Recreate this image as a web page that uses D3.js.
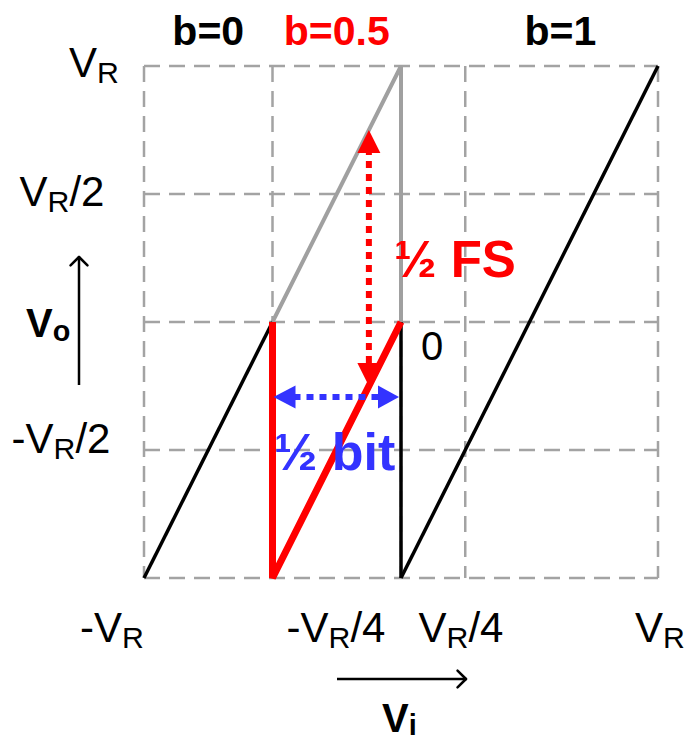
<!DOCTYPE html>
<html><head><meta charset="utf-8">
<script src="https://cdn.jsdelivr.net/npm/d3@7"></script>
<style>body{margin:0;background:#fff}svg{display:block}text{font-family:"Liberation Sans",Arial,sans-serif}</style>
</head><body><svg id="c" width="685" height="743"></svg>
<script>
// ---- data (units of V_R) ----
const xGrid = [-1, -0.5, 0, 0.25, 1];
const yGrid = [1, 0.5, 0, -0.5, -1];
const xTickValues = [-1, -0.25, 0.25, 1];
const xTickLabels = ["-V_R", "-V_R/4", "V_R/4", "V_R"];
const yTickValues = [1, 0.5, -0.5];
const yTickLabels = ["V_R", "V_R/2", "-V_R/2"];
const segLabels = ["b=0", "b=0.5", "b=1"];
const segLabelX = [-0.75, -0.25, 0.62];
const curveB0 = [[-1, -1], [-0.5, 0]];
const curveGray = [[-0.5, 0], [0, 1], [0, 0]];
const curveRed = [[-0.5, 0], [-0.5, -1], [0, 0]];
const curveB1a = [[0, 0], [0, -1]];
const curveB1b = [[0, -1], [1, 1]];
const fsArrow = [[-0.125, -0.25], [-0.125, 0.75]];
const bitArrow = [[-0.5, -0.293], [0, -0.293]];

const svg = d3.select("#c");
const x = d3.scaleLinear().domain([-1, 1]).range([144, 658]);
const y = d3.scaleLinear().domain([-1, 1]).range([578, 66]);
const line = d3.line().x(d => x(d[0])).y(d => y(d[1]));

// grid
const grid = svg.append("g").attr("stroke", "#a3a3a3").attr("stroke-width", 2.5)
  .attr("stroke-dasharray", "16,9").attr("fill", "none");
grid.selectAll(".h").data(yGrid).join("line")
  .attr("x1", x(-1)).attr("x2", x(1)).attr("y1", d => y(d)).attr("y2", d => y(d));
grid.selectAll(".v").data(xGrid).join("line")
  .attr("y1", y(1)).attr("y2", y(-1)).attr("x1", d => x(d)).attr("x2", d => x(d));

// curves
function path(data, color, w) {
  svg.append("path").datum(data).attr("d", line).attr("fill", "none")
    .attr("stroke", color).attr("stroke-width", w).attr("stroke-linejoin", "miter");
}
path(curveGray, "#a0a0a0", 4);
path(curveB0, "#000", 3.5);
path(curveB1a, "#000", 3.5);
path(curveB1b, "#000", 3.5);
path(curveRed, "#ff0000", 7);

// dotted double arrows
function dblArrow(p, color, vertical) {
  const x1 = x(p[0][0]), y1 = y(p[0][1]), x2 = x(p[1][0]), y2 = y(p[1][1]);
  const L = 23, W = 11.5;
  const g = svg.append("g");
  if (vertical) {
    g.append("line").attr("x1", x1).attr("x2", x2).attr("y1", y1 - L).attr("y2", y2 + L)
      .attr("stroke", color).attr("stroke-width", 6).attr("stroke-dasharray", "7,6");
    g.append("path").attr("fill", color)
      .attr("d", `M${x1},${y1}L${x1 - W},${y1 - L}L${x1 + W},${y1 - L}Z`);
    g.append("path").attr("fill", color)
      .attr("d", `M${x2},${y2}L${x2 - W},${y2 + L}L${x2 + W},${y2 + L}Z`);
  } else {
    g.append("line").attr("x1", x1 + L - 2).attr("x2", x2 - L + 2).attr("y1", y1).attr("y2", y2)
      .attr("stroke", color).attr("stroke-width", 6).attr("stroke-dasharray", "7,6");
    g.append("path").attr("fill", color)
      .attr("d", `M${x1 + 1},${y1}L${x1 + L},${y1 - W}L${x1 + L},${y1 + W}Z`);
    g.append("path").attr("fill", color)
      .attr("d", `M${x2 - 2},${y2}L${x2 - L},${y2 - W}L${x2 - L},${y2 + W}Z`);
  }
}
dblArrow(fsArrow, "#ff0000", true);
dblArrow(bitArrow, "#3333ff", false);

// text with subscript helper
function subText(parent, str, px, py, size, anchor, weight, color, subShift) {
  const t = parent.append("text").attr("x", px).attr("y", py).attr("font-size", size)
    .attr("text-anchor", anchor).attr("font-weight", weight || "normal").attr("fill", color || "#000");
  const parts = str.split("_");
  const sh = subShift == null ? 0.15 : subShift;
  t.append("tspan").text(parts[0]);
  if (parts.length > 1) {
    const sub = parts[1][0], rest = parts[1].slice(1);
    t.append("tspan").attr("font-size", size * 0.72).attr("dy", size * sh).text(sub);
    if (rest) t.append("tspan").attr("dy", -size * sh).text(rest);
  }
  return t;
}

// top labels
const segColors = ["#000", "#ff0000", "#000"];
segLabels.forEach((s, i) => {
  svg.append("text").attr("x", x(segLabelX[i])).attr("y", 45)
    .attr("text-anchor", "middle").attr("font-size", 41).attr("font-weight", "bold")
    .attr("fill", segColors[i]).text(s);
});

// y tick labels
const yLabX = [94, 62, 61], yLabDy = [11, 12, 3];
yTickValues.forEach((v, i) => subText(svg, yTickLabels[i], yLabX[i], y(v) + yLabDy[i], 42, "middle"));

// x tick labels
const xLabX = [112, 336, 461, 660];
xTickValues.forEach((v, i) => subText(svg, xTickLabels[i], xLabX[i], 642, 42, "middle"));

// zero label
svg.append("text").attr("x", x(0) + 20).attr("y", y(0) + 38).attr("font-size", 40).text("0");

// annotations
svg.append("text").attr("x", 394).attr("y", 277).attr("font-size", 51).attr("font-weight", "bold")
  .attr("fill", "#ff0000").text("½ FS");
svg.append("text").attr("x", 274).attr("y", 470).attr("font-size", 52).attr("font-weight", "bold")
  .attr("fill", "#3333ff").text("½ bit");

// axis titles with arrows
function arrowLine(x1, y1, x2, y2) {
  svg.append("line").attr("x1", x1).attr("y1", y1).attr("x2", x2).attr("y2", y2)
    .attr("stroke", "#000").attr("stroke-width", 2.5);
  const ang = Math.atan2(y2 - y1, x2 - x1), a = 12;
  [Math.PI * 0.75, -Math.PI * 0.75].forEach(o => {
    svg.append("line").attr("x1", x2).attr("y1", y2)
      .attr("x2", x2 + a * Math.cos(ang + o)).attr("y2", y2 + a * Math.sin(ang + o))
      .attr("stroke", "#000").attr("stroke-width", 2.5).attr("stroke-linecap", "round");
  });
}
arrowLine(79, 385, 79, 257);
arrowLine(337, 679, 466, 679);
subText(svg, "V_o", 26, 337, 40, "start", "bold", "#000", 0.1);
subText(svg, "V_i", 382, 732, 40, "start", "bold", "#000", 0.08);
</script></body></html>
